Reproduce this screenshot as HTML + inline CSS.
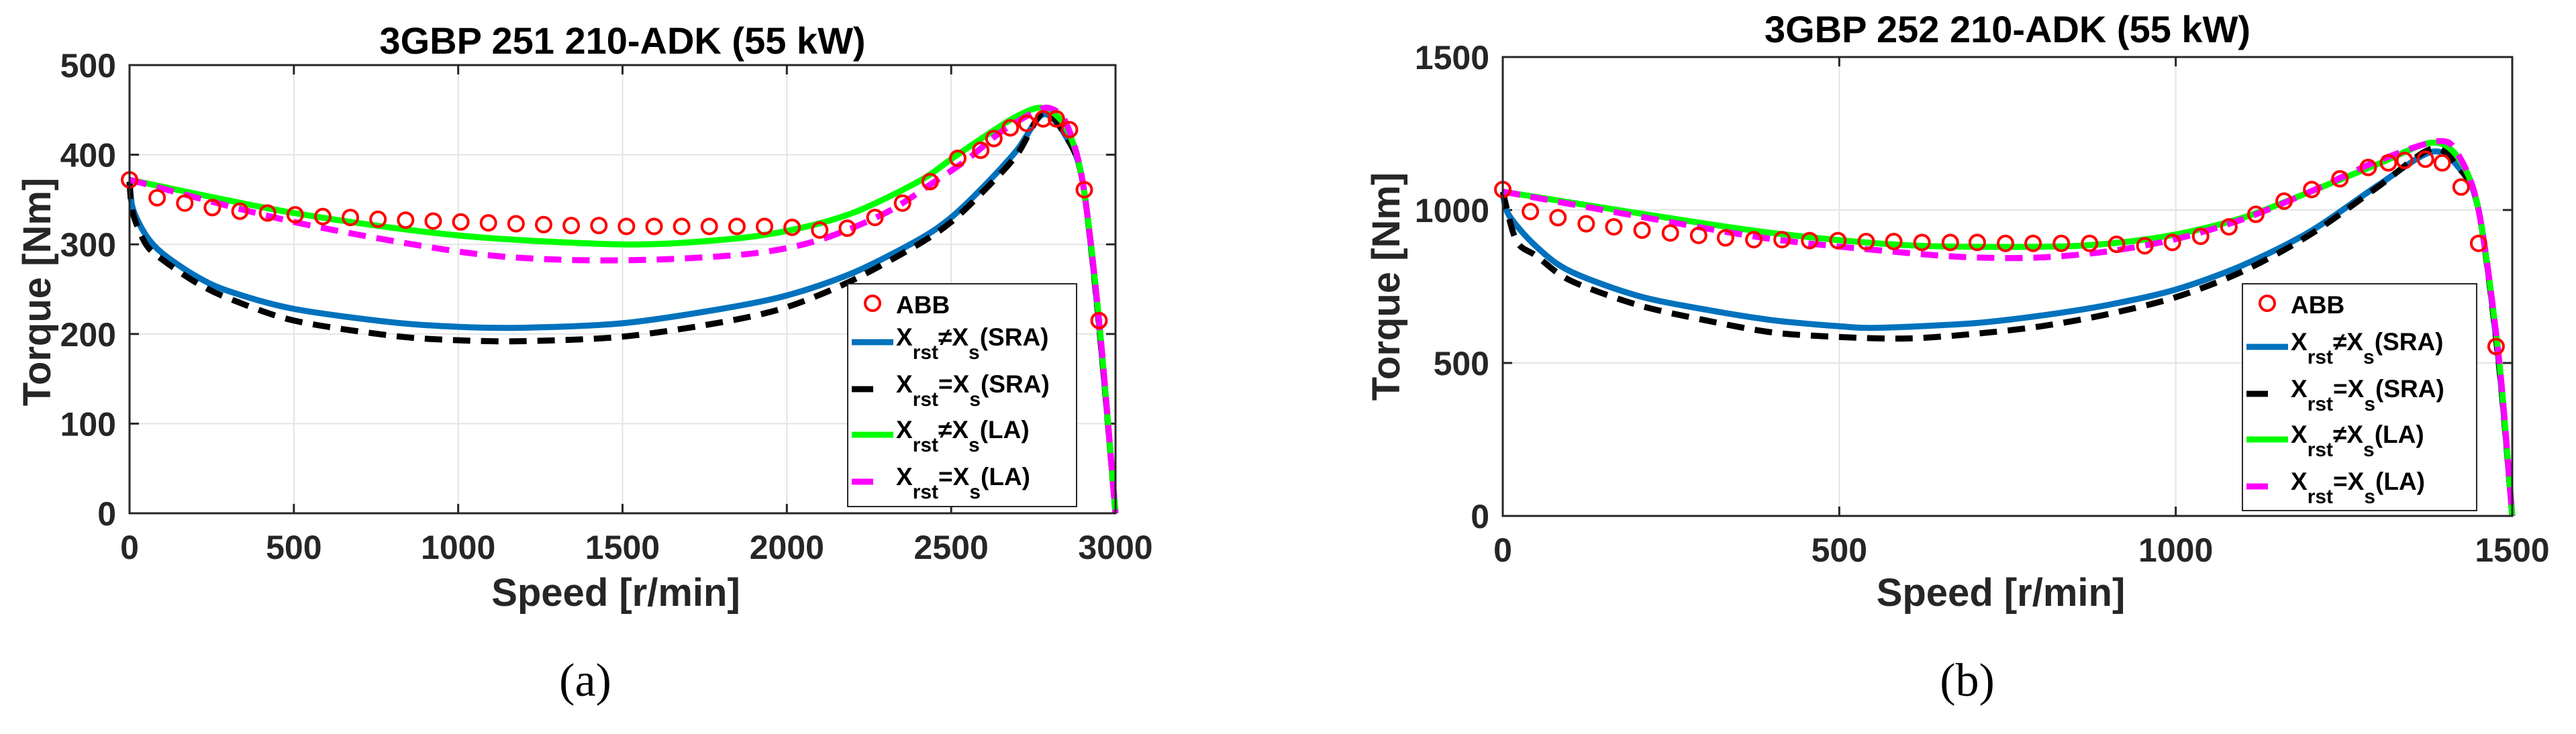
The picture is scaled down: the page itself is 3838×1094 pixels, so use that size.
<!DOCTYPE html>
<html><head><meta charset="utf-8"><style>
html,body{margin:0;padding:0;background:#fff;}
svg{display:block;}
text{font-family:"Liberation Sans",Arial,sans-serif;}
text.serif{font-family:"Liberation Serif","Times New Roman",serif;}
</style></head><body>
<svg id="root" width="3838" height="1094" viewBox="0 0 3838 1094" xmlns="http://www.w3.org/2000/svg"></svg>
<script>
// ---------- Chart (a) data ----------
const aBlueX=[0,10,50,100,200,300,500,800,1000,1200,1500,1800,2000,2200,2400,2500,2600,2700,2780,2850,2900,2950,3000];
const aBlueY=[370,340,310,290,265,248,228,213,208,207,212,228,243,268,305,330,365,405,445,420,370,210,0];
const aBlackX=[0,10,50,100,200,300,500,800,1000,1200,1500,1800,2000,2200,2400,2500,2600,2700,2780,2850,2900,2950,3000];
const aBlackY=[370,335,300,283,258,240,215,198,193,192,197,213,230,260,300,325,360,400,447,420,370,210,0];
const aGreenX=[0,500,1000,1500,1800,2000,2200,2400,2500,2600,2700,2780,2850,2900,2950,3000];
const aGreenY=[372,335,310,300,305,315,335,370,395,420,443,452,430,370,215,0];
const aMagX=[0,500,1000,1300,1600,1900,2100,2300,2450,2550,2650,2750,2800,2850,2900,2950,3000];
const aMagY=[372,325,292,283,283,290,305,335,370,395,425,447,452,435,370,215,0];
const aAbbX=[0,84,168,252,336,420,504,588,672,756,840,924,1008,1092,1176,1260,1344,1428,1512,1596,1680,1764,1848,1932,2016,2100,2184,2268,2352,2436,2520,2590,2630,2680,2730,2780,2820,2860,2905,2950];
const aAbbY=[372,352,346,341,337,335,333,331,330,328,327,326,325,324,323,322,321,321,320,320,320,320,320,320,319,316,318,330,346,370,396,405,418,430,435,440,440,428,361,215];
const aXTicks=[0,500,1000,1500,2000,2500,3000];
const aYTicks=[0,100,200,300,400,500];
// ---------- Chart (b) data ----------
const bBlueX=[0,10,50,100,200,300,400,500,560,700,800,900,1000,1100,1200,1300,1380,1420,1450,1480,1500];
const bBlueY=[1050,980,880,800,720,675,640,620,615,630,655,690,740,820,930,1080,1190,1140,1000,500,0];
const bBlackX=[0,20,50,100,200,300,400,500,600,700,800,900,1000,1100,1200,1300,1380,1420,1450,1480,1500];
const bBlackY=[1060,900,850,770,690,640,600,585,580,595,620,660,715,800,920,1075,1200,1140,1000,500,0];
const bGreenX=[0,200,400,600,800,900,1000,1100,1200,1300,1380,1420,1450,1480,1500];
const bGreenY=[1060,990,925,885,880,890,920,975,1060,1150,1220,1170,1000,520,0];
const bMagX=[0,200,400,600,700,800,900,1000,1100,1200,1300,1390,1420,1450,1480,1500];
const bMagY=[1060,980,905,860,845,845,865,905,970,1060,1160,1225,1180,1000,520,0];
const bAbbX=[0,41,82,124,165,207,249,291,331,373,415,456,498,540,581,623,665,705,747,788,830,872,912,954,995,1037,1079,1119,1161,1202,1244,1286,1316,1340,1371,1396,1424,1450,1476];
const bAbbY=[1067,995,975,955,945,934,925,917,909,903,903,900,900,897,897,894,894,894,891,891,891,891,888,883,894,914,945,986,1029,1067,1102,1139,1154,1162,1166,1154,1075,891,554];
const bXTicks=[0,500,1000,1500];
const bYTicks=[0,500,1000,1500];

const NS="http://www.w3.org/2000/svg";
const root=document.getElementById('root');
function mk(tag,attrs,parent){const e=document.createElementNS(NS,tag);for(const k in attrs)e.setAttribute(k,attrs[k]);(parent||root).appendChild(e);return e;}
function smooth(xs,ys,sx,sy){
  const p=xs.map((x,i)=>[sx(x),sy(ys[i])]);
  let d=`M${p[0][0]},${p[0][1]}`;
  for(let i=0;i<p.length-1;i++){
    const p0=p[Math.max(0,i-1)],p1=p[i],p2=p[i+1],p3=p[Math.min(p.length-1,i+2)];
    const t=0.15;
    d+=` C${p1[0]+(p2[0]-p0[0])*t},${p1[1]+(p2[1]-p0[1])*t} ${p2[0]-(p3[0]-p1[0])*t},${p2[1]-(p3[1]-p1[1])*t} ${p2[0]},${p2[1]}`;
  }
  return d;
}
function legendLabel(g,x,y,eq,suffix){
  const t=mk('text',{x:x,y:y,'font-size':37,'font-weight':'bold',fill:'#000'},g);
  t.innerHTML=`X<tspan dy="20" font-size="30">rst</tspan><tspan dy="-20">${eq}X</tspan><tspan dy="20" font-size="30">s</tspan><tspan dy="-20">${suffix}</tspan>`;
}

function chart(cfg){
  const g=mk('g',{});
  
  
  const {L,R,T,B,xmax,ymax}=cfg;
  const sx=v=>L+v*(R-L)/xmax, sy=v=>B-v*(B-T)/ymax;
  cfg.xt.forEach(v=>{if(v>0&&v<xmax){const l=mk('line',{x1:sx(v),x2:sx(v),y1:T,y2:B,stroke:'#e3e3e3','stroke-width':2},g);}});
  cfg.yt.forEach(v=>{if(v>0&&v<ymax){const l=mk('line',{x1:L,x2:R,y1:sy(v),y2:sy(v),stroke:'#e3e3e3','stroke-width':2},g);}});
  cfg.xt.forEach(v=>{
    mk('line',{x1:sx(v),x2:sx(v),y1:B,y2:B-14,stroke:'#262626','stroke-width':3},g);
    mk('line',{x1:sx(v),x2:sx(v),y1:T,y2:T+14,stroke:'#262626','stroke-width':3},g);
    const t=mk('text',{x:sx(v),y:B+68,'font-size':50,'font-weight':'bold',fill:'#262626','text-anchor':'middle'},g);
    t.textContent=v;
    
    
  });
  cfg.yt.forEach(v=>{
    mk('line',{x1:L,x2:L+14,y1:sy(v),y2:sy(v),stroke:'#262626','stroke-width':3},g);
    mk('line',{x1:R,x2:R-14,y1:sy(v),y2:sy(v),stroke:'#262626','stroke-width':3},g);
    const t=mk('text',{x:L-20,y:sy(v)+18,'font-size':50,'font-weight':'bold',fill:'#262626','text-anchor':'end'},g);
    t.textContent=v;
    
    
  });
  const series=[
    [cfg.blueX,cfg.blueY,'#0072BD',null,'series-xrst-ne-xs-sra'],
    [cfg.blackX,cfg.blackY,'#000000','26 16','series-xrst-eq-xs-sra'],
    [cfg.greenX,cfg.greenY,'#00FF00',null,'series-xrst-ne-xs-la'],
    [cfg.magX,cfg.magY,'#FF00FF','26 16','series-xrst-eq-xs-la']];
  series.forEach(s=>{
    const a={d:smooth(s[0],s[1],sx,sy),fill:'none',stroke:s[2],'stroke-width':9,'stroke-linejoin':'round'};
    if(s[3])a['stroke-dasharray']=s[3];
    const p=mk('path',a,g);
    
    
  });
  cfg.abbX.forEach((x,i)=>{
    const c=mk('circle',{cx:sx(x),cy:sy(cfg.abbY[i]),r:11,fill:'none',stroke:'#FF0000','stroke-width':4},g);
    
    
  });
  const box=mk('rect',{x:L,y:T,width:R-L,height:B-T,fill:'none',stroke:'#262626','stroke-width':3},g);
  
  
  const ti=mk('text',{x:(L+R)/2,y:cfg.titleY,'font-size':56,'font-weight':'bold',fill:'#000','text-anchor':'middle'},g);
  ti.textContent=cfg.title;
  
  
  const xl=mk('text',{x:(L+R)/2-10,y:903,'font-size':58,'font-weight':'bold',fill:'#262626','text-anchor':'middle'},g);
  xl.textContent='Speed [r/min]';
  
  
  const yl=mk('text',{x:0,y:0,'font-size':58,'font-weight':'bold',fill:'#262626','text-anchor':'middle',transform:`translate(${cfg.ylx},${cfg.yly}) rotate(-90)`},g);
  yl.textContent='Torque [Nm]';
  
  
  const cap=mk('text',{x:cfg.capX,y:1037,'font-size':70,fill:'#000','text-anchor':'middle','class':'serif',style:'font-family:"Liberation Serif",serif'},g);
  cap.textContent=cfg.cap;
  
  
  const lg=mk('g',{},g);
  
  
  const Lx=cfg.lg[0],Ly=cfg.lg[1],Lw=cfg.lg[2],Lh=cfg.lg[3],ys=cfg.lgY;
  mk('rect',{x:Lx,y:Ly,width:Lw,height:Lh,fill:'#fff',stroke:'#262626','stroke-width':2},lg);
  mk('circle',{cx:Lx+37,cy:ys[0],r:11,fill:'none',stroke:'#FF0000','stroke-width':4},lg);
  const ab=mk('text',{x:Lx+72,y:ys[0]+15,'font-size':37,'font-weight':'bold',fill:'#000'},lg);ab.textContent='ABB';
  mk('line',{x1:Lx+6,x2:Lx+68,y1:ys[1],y2:ys[1],stroke:'#0072BD','stroke-width':9},lg);
  mk('line',{x1:Lx+6,x2:Lx+38,y1:ys[2],y2:ys[2],stroke:'#000','stroke-width':9},lg);
  mk('line',{x1:Lx+6,x2:Lx+68,y1:ys[3],y2:ys[3],stroke:'#00FF00','stroke-width':9},lg);
  mk('line',{x1:Lx+6,x2:Lx+38,y1:ys[4],y2:ys[4],stroke:'#FF00FF','stroke-width':9},lg);
  legendLabel(lg,Lx+72,ys[1]+5,'≠','(SRA)');
  legendLabel(lg,Lx+72,ys[2]+5,'=','(SRA)');
  legendLabel(lg,Lx+72,ys[3]+5,'≠','(LA)');
  legendLabel(lg,Lx+72,ys[4]+5,'=','(LA)');
}

chart({name:'chart-a',L:193,R:1662,T:97,B:765,xmax:3000,ymax:500,xt:aXTicks,yt:aYTicks,
  blueX:aBlueX,blueY:aBlueY,blackX:aBlackX,blackY:aBlackY,greenX:aGreenX,greenY:aGreenY,magX:aMagX,magY:aMagY,abbX:aAbbX,abbY:aAbbY,
  title:'3GBP 251 210-ADK (55 kW)',titleY:80,ylx:75,yly:435,capX:872,cap:'(a)',
  lg:[1263,423,341,332],lgY:[452,510,580,648,718]});
chart({name:'chart-b',L:2239,R:3743,T:85,B:769,xmax:1500,ymax:1500,xt:bXTicks,yt:bYTicks,
  blueX:bBlueX,blueY:bBlueY,blackX:bBlackX,blackY:bBlackY,greenX:bGreenX,greenY:bGreenY,magX:bMagX,magY:bMagY,abbX:bAbbX,abbY:bAbbY,
  title:'3GBP 252 210-ADK (55 kW)',titleY:63,ylx:2085,yly:427,capX:2931,cap:'(b)',
  lg:[3341,423,349,338],lgY:[452,517,587,655,725]});
</script>
</body></html>
